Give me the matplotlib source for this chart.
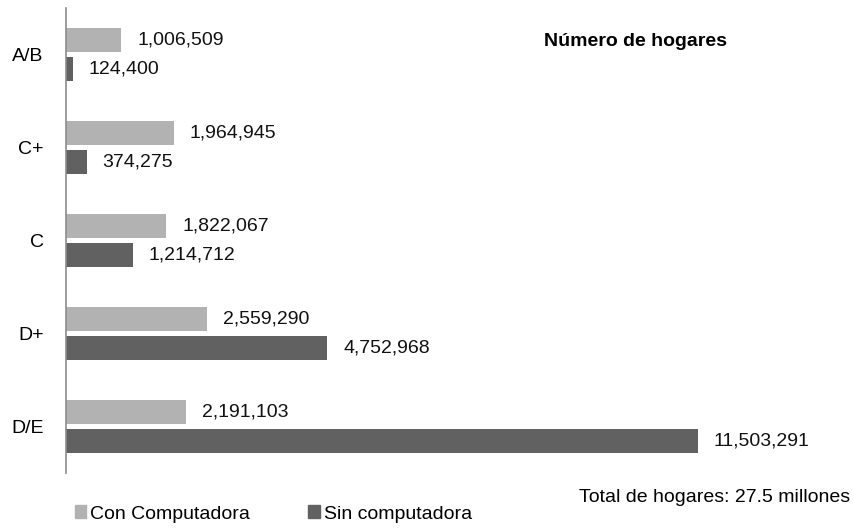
import matplotlib.pyplot as plt
import numpy as np
from matplotlib.patches import Patch

plt.rcParams['font.family'] = ['Liberation Sans Narrow', 'Liberation Sans', 'DejaVu Sans']

categorias = ['A/B', 'C+', 'C', 'D+', 'D/E']
con_computadora = [1006509, 1964945, 1822067, 2559290, 2191103]
sin_computadora = [124400, 374275, 1214712, 4752968, 11503291]

c_con = '#b2b2b2'
c_sin = '#616161'

fig = plt.figure(figsize=(8.54, 5.29), dpi=100)
ax = fig.add_axes([66/854, 1 - 473/529, (820-66)/854, (473-8)/529])

y = np.arange(len(categorias))
h = 0.255
off = 0.157
ax.barh(y - off, con_computadora, height=h, color=c_con)
ax.barh(y + off, sin_computadora, height=h, color=c_sin)

xmax = 11503291 * (820 - 66) / (698 - 66)
ax.set_xlim(0, xmax)
ax.set_ylim(4.5, -0.5)

pad = xmax * 16 / 754
for i in range(len(categorias)):
    ax.text(con_computadora[i] + pad, y[i] - off, f'{con_computadora[i]:,}',
            va='center', ha='left', fontsize=14, color='#111111')
    ax.text(sin_computadora[i] + pad, y[i] + off, f'{sin_computadora[i]:,}',
            va='center', ha='left', fontsize=14, color='#111111')

ax.set_yticks(y)
ax.set_yticklabels(categorias, fontsize=14)
ax.tick_params(axis='y', length=0, pad=16)
ax.set_xticks([])
for s in ['top', 'right', 'bottom']:
    ax.spines[s].set_visible(False)
ax.spines['left'].set_color('#8c8c8c')
ax.spines['left'].set_linewidth(1.2)

fig.text(636/854, 1 - 42/529, 'Número de hogares', ha='center', va='center',
         fontsize=14, fontweight='bold')
fig.text(850/854, 1 - 497/529, 'Total de hogares: 27.5 millones', ha='right',
         va='center', fontsize=14)

handles = [Patch(color=c_con, label='Con Computadora'),
           Patch(color=c_sin, label='Sin computadora')]
fig.legend(handles=handles, loc='center left', bbox_to_anchor=(57/854, 1 - 514/529),
           ncol=2, frameon=False, fontsize=14, handlelength=0.6, handleheight=0.6,
           handletextpad=0.2, columnspacing=3.0)

plt.savefig('out.png', dpi=100)
